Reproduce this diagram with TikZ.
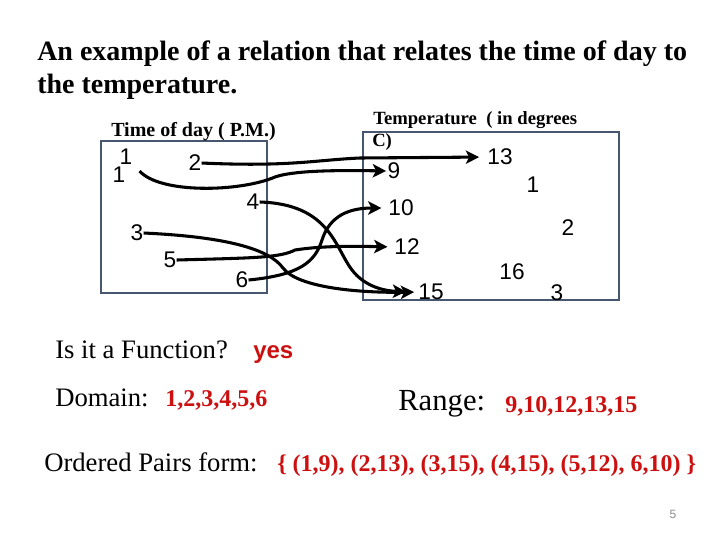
\documentclass[tikz,border=0pt]{standalone}
\usepackage{fontspec}
\setmainfont{Liberation Serif}
\newfontfamily\arialfont{Liberation Sans}
\usetikzlibrary{arrows.meta}
\definecolor{boxc}{RGB}{70,88,112}
\definecolor{redc}{RGB}{204,16,16}
\definecolor{pagec}{RGB}{140,140,140}
\begin{document}
\begin{tikzpicture}[x=0.75pt,y=-0.75pt,
  num/.style={font=\arialfont\fontsize{17}{20}\selectfont,inner sep=0pt},
  lbl/.style={font=\bfseries\fontsize{14}{16}\selectfont,inner sep=0pt,anchor=base west},
  titlet/.style={font=\bfseries\fontsize{21}{25}\selectfont,inner sep=0pt,anchor=base west},
  txt/.style={font=\fontsize{20}{24}\selectfont,inner sep=0pt,anchor=base west},
  redt/.style={font=\bfseries\fontsize{18}{22}\selectfont,text=redc,inner sep=0pt,anchor=base west},
  setbox/.style={draw=boxc,line width=1.5pt},
  rel/.style={line width=2.3pt,-{Stealth[length=10pt,width=10pt,inset=2.5pt]},shorten >=2pt},
]
\useasboundingbox (0,0) rectangle (720,540);
\fill[white] (0,0) rectangle (720,540);

% title
\node[titlet] (t1) at (37,60) {An example of a relation that relates the time of day to};
\node[titlet] (t2) at (37,93) {the temperature.};

% boxes
\draw[setbox] (101,141) rectangle (267,293);
\draw[setbox] (363,132) rectangle (619,300);
\node[lbl,font=\bfseries\fontsize{15}{17}\selectfont] (dl) at (111,136) {Time of day ( P.M.)};
\node[lbl] (rl) at (373,124) {Temperature\ \ ( in degrees};
\node[lbl] (rl2) at (372,146) {C)};

% domain numbers
\node[num] (l1a) at (126,157) {1};
\node[num] (l1b) at (119,175) {1};
\node[num] (l2) at (195,163) {2};
\node[num] (l4) at (253,202) {4};
\node[num] (l3) at (137,233) {3};
\node[num] (l5) at (170,260) {5};
\node[num] (l6) at (242,280) {6};

% range numbers
\node[num] (r13) at (500,157) {13};
\node[num] (r9) at (394,171) {9};
\node[num] (r1) at (533,185) {1};
\node[num] (r10) at (401,208) {10};
\node[num] (r2) at (568,228) {2};
\node[num] (r12) at (407,247) {12};
\node[num] (r16) at (512,272) {16};
\node[num] (r15) at (431,292) {15};
\node[num] (r3) at (557,293) {3};

% connectors
\draw[rel,shorten >=1pt] ([shift={(14,-4)}]l1b.east) .. controls (160,194) and (240,192) .. (275,177)
   .. controls (292,171) and (330,170) .. (r9.west);
\draw[rel,shorten >=6pt] (l2.east) .. controls (290,167) and (315,160) .. (360,158) -- (r13.west);
\draw[rel,shorten >=9pt] (l4.east) .. controls (330,204) and (335,248) .. (352,270)
   .. controls (365,287) and (385,291) .. (r15.west);
\draw[rel,shorten >=3pt] (l3.east) .. controls (230,237) and (270,250) .. (283,268)
   .. controls (298,288) and (360,293) .. (r15.west);
\draw[rel,shorten >=5pt] (l5.east) .. controls (250,258) and (280,258) .. (295,250)
   .. controls (320,246) and (350,246) .. (r12.west);
\draw[rel,shorten >=5pt] (l6.east) .. controls (300,275) and (315,262) .. (322,240)
   .. controls (330,215) and (350,208) .. (r10.west);

% bottom texts
\node[txt] (q) at (55,358) {Is it a Function?};
\node[font=\arialfont\bfseries\fontsize{18}{22}\selectfont,text=redc,inner sep=0pt,anchor=base west] (yes) at (253,358) {yes};
\node[txt] (dom) at (55,406) {Domain:};
\node[redt] (domv) at (165,406) {1,2,3,4,5,6};
\node[font=\fontsize{23}{27}\selectfont,inner sep=0pt,anchor=base west] (ran) at (398,410) {Range:};
\node[redt] (ranv) at (505,412) {9,10,12,13,15};
\node[txt] (op) at (44,471) {Ordered Pairs form:};
\node[redt] (opv) at (277,471) {\{ (1,9), (2,13), (3,15), (4,15), (5,12), 6,10) \}};
\node[font=\arialfont\fontsize{9}{11}\selectfont,text=pagec,inner sep=0pt] (pg) at (673,514) {5};
\end{tikzpicture}
\end{document}
